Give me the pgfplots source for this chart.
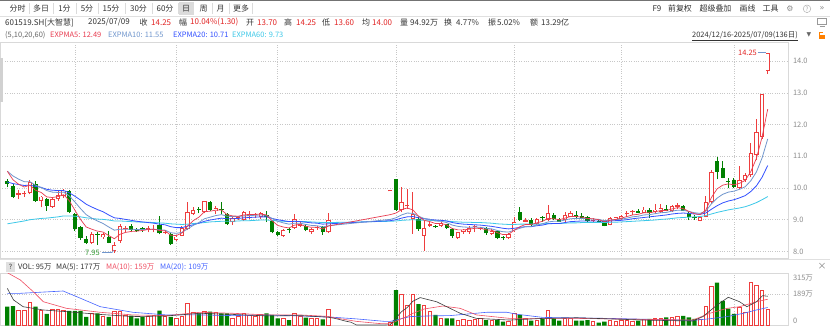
\documentclass[border=0pt]{standalone}
\usepackage{pgfplots}
\pgfplotsset{compat=1.18}
\usepackage{pgfplotstable}
\usepackage{fontspec}
\setmainfont{Noto Sans CJK SC}
\newfontfamily\sym{DejaVu Sans}
\newcommand\fs[1]{\fontsize{#1}{#1}\selectfont}
\definecolor{upred}{RGB}{238,62,62}
\definecolor{txtred}{RGB}{226,36,36}
\definecolor{dngreen}{RGB}{0,128,0}
\definecolor{ema5}{RGB}{232,60,80}
\definecolor{ema10}{RGB}{112,150,205}
\definecolor{ema20}{RGB}{50,80,255}
\definecolor{ema60}{RGB}{60,200,232}
\definecolor{vma5}{RGB}{60,60,60}
\definecolor{vma10}{RGB}{240,80,100}
\definecolor{vma20}{RGB}{70,100,255}
\definecolor{labc}{RGB}{140,140,140}
\definecolor{txt}{RGB}{51,51,51}

\pgfplotstableread{
x o h l c v
2 9.78 9.94 9.65 9.83 94
3 9.80 9.92 9.72 9.84 90
4 9.83 10.25 9.80 10.20 138
6 9.58 9.75 9.39 9.73 94
8 9.41 9.68 9.38 9.65 98
9 9.65 9.94 9.60 9.79 98
10 9.76 9.98 9.70 9.92 94
15 8.26 8.60 8.23 8.55 74
17 8.44 8.58 8.40 8.54 53
19 8.02 8.30 7.95 8.21 88
20 8.34 8.86 8.28 8.81 84
21 8.70 8.81 8.60 8.73 60
25 8.69 8.80 8.60 8.75 53
26 8.68 8.83 8.60 8.71 60
28 8.58 8.66 8.54 8.62 53
30 8.36 8.52 8.32 8.47 43
31 8.50 8.81 8.48 8.74 53
32 8.71 9.55 8.67 9.23 134
33 9.18 9.39 9.16 9.30 80
35 9.23 9.60 9.20 9.58 88
37 9.26 9.44 9.18 9.37 78
40 8.92 9.13 8.84 9.04 43
41 9.02 9.12 8.98 9.09 53
42 9.00 9.28 8.97 9.23 74
43 9.13 9.28 9.02 9.18 60
44 9.15 9.20 9.05 9.18 58
45 9.10 9.23 9.02 9.21 68
49 8.50 8.72 8.46 8.68 43
51 8.74 9.18 8.72 9.02 74
52 8.81 8.92 8.78 8.88 53
54 8.60 8.74 8.56 8.70 43
55 8.74 8.80 8.68 8.77 43
57 8.60 9.21 8.58 8.99 98
68 9.89 9.89 9.89 9.89 17
70 9.31 10.04 9.23 9.55 189
71 9.42 9.97 9.34 9.47 124
72 9.02 9.88 8.55 9.18 191
74 8.50 8.97 8.02 8.74 120
75 8.81 8.97 8.78 8.86 84
77 8.81 8.92 8.78 8.89 43
80 8.42 8.62 8.40 8.60 33
81 8.60 8.72 8.56 8.69 35
82 8.61 8.81 8.55 8.74 33
83 8.76 8.84 8.60 8.79 37
84 8.72 8.78 8.66 8.74 43
86 8.55 8.70 8.52 8.65 33
89 8.42 8.58 8.40 8.55 23
90 8.63 9.07 8.60 8.94 74
92 8.94 9.04 8.92 8.99 43
94 8.86 9.06 8.83 9.02 33
96 8.99 9.47 8.97 9.22 94
99 8.99 9.23 8.93 9.16 43
100 9.10 9.26 9.08 9.20 43
104 8.95 9.05 8.92 8.99 23
107 8.84 9.07 8.82 9.05 33
108 9.00 9.10 8.97 9.07 23
109 9.02 9.16 9.00 9.12 29
110 9.18 9.28 9.10 9.20 33
111 9.23 9.30 9.16 9.25 25
113 9.22 9.39 9.20 9.32 35
115 9.25 9.51 9.21 9.32 45
116 9.25 9.49 9.22 9.36 45
118 9.28 9.46 9.25 9.43 48
119 9.41 9.53 9.35 9.46 55
123 8.97 9.11 8.95 9.09 35
124 9.09 9.76 9.07 9.57 115
125 9.57 10.56 9.51 10.51 238
130 9.99 10.69 9.97 10.25 108
131 10.25 10.46 10.20 10.41 80
132 10.41 11.41 10.36 11.09 262
133 11.04 12.19 10.88 11.77 240
134 11.62 12.98 11.56 12.95 212
135 13.70 14.25 13.60 14.25 95
}\uptab

\pgfplotstableread{
x o h l c v
0 10.21 10.28 10.02 10.13 114
1 10.07 10.12 9.68 9.71 118
5 10.13 10.23 9.57 9.60 114
7 9.65 9.68 9.28 9.44 70
11 9.92 9.95 9.20 9.23 88
12 9.18 9.20 8.65 8.70 88
13 8.76 8.81 8.36 8.42 88
14 8.39 8.49 8.23 8.28 53
16 8.55 8.60 8.20 8.53 74
18 8.47 8.65 8.25 8.28 53
22 8.81 8.86 8.60 8.68 60
23 8.70 8.75 8.62 8.65 43
24 8.73 8.78 8.62 8.70 53
27 8.84 9.13 8.54 8.57 90
29 8.55 8.58 8.20 8.23 53
34 9.34 9.41 9.20 9.31 74
36 9.55 9.58 9.28 9.31 84
38 9.35 9.55 9.18 9.32 74
39 9.18 9.20 8.83 8.86 74
46 9.14 9.28 8.92 9.08 74
47 8.95 9.00 8.57 8.60 64
48 8.60 8.65 8.50 8.53 43
50 8.72 8.74 8.57 8.68 33
53 8.81 8.86 8.63 8.68 47
56 8.76 8.80 8.52 8.60 37
69 10.28 10.28 9.28 9.31 215
73 9.02 9.09 8.65 8.70 130
76 8.80 8.84 8.74 8.76 64
78 8.86 8.88 8.70 8.74 43
79 8.70 8.74 8.42 8.49 43
85 8.74 8.78 8.53 8.57 33
87 8.65 8.68 8.38 8.42 33
88 8.45 8.48 8.36 8.43 23
91 9.25 9.39 8.97 8.99 64
93 9.00 9.05 8.80 8.84 29
95 9.09 9.11 8.93 9.05 39
97 9.16 9.22 8.99 9.01 43
98 9.01 9.04 8.92 8.94 29
101 9.16 9.28 9.06 9.09 29
102 9.12 9.20 9.02 9.05 29
103 9.07 9.12 8.93 8.97 33
105 8.97 9.00 8.90 8.94 17
106 8.95 8.98 8.79 8.81 23
112 9.27 9.33 9.20 9.22 30
114 9.30 9.36 9.04 9.22 40
117 9.33 9.46 9.26 9.29 50
120 9.43 9.46 9.26 9.28 58
121 9.22 9.28 8.99 9.07 50
122 9.06 9.14 9.00 9.04 40
126 10.86 10.98 10.27 10.51 260
127 10.64 10.86 10.30 10.32 149
128 10.23 10.30 9.99 10.20 102
129 10.25 10.30 9.99 10.04 70
}\dntab

\pgfplotstableread{
x e5 e10 e20 e60
0 10.53 10.53 10.19 8.87
1 10.26 10.38 10.14 8.90
2 10.12 10.28 10.11 8.93
3 10.03 10.20 10.08 8.96
4 10.09 10.20 10.09 9.00
5 9.93 10.09 10.05 9.02
6 9.86 10.02 10.02 9.04
7 9.72 9.92 9.96 9.05
8 9.70 9.87 9.93 9.07
9 9.73 9.86 9.92 9.09
10 9.79 9.87 9.92 9.12
11 9.60 9.75 9.85 9.12
12 9.30 9.56 9.74 9.11
13 9.01 9.35 9.62 9.09
14 8.77 9.16 9.49 9.06
15 8.70 9.05 9.40 9.04
16 8.64 8.96 9.32 9.02
17 8.61 8.88 9.25 9.01
18 8.50 8.77 9.15 8.99
19 8.40 8.67 9.06 8.96
20 8.54 8.70 9.04 8.96
21 8.60 8.70 9.01 8.95
22 8.63 8.70 8.98 8.94
23 8.64 8.69 8.95 8.93
24 8.66 8.69 8.93 8.92
25 8.69 8.70 8.91 8.92
26 8.70 8.70 8.89 8.91
27 8.66 8.68 8.86 8.90
28 8.65 8.67 8.84 8.89
29 8.51 8.59 8.78 8.87
30 8.50 8.57 8.75 8.86
31 8.58 8.60 8.75 8.85
32 8.80 8.71 8.80 8.86
33 8.97 8.82 8.84 8.88
34 9.08 8.91 8.89 8.89
35 9.25 9.03 8.95 8.91
36 9.27 9.08 8.99 8.93
37 9.30 9.13 9.02 8.94
38 9.31 9.16 9.05 8.95
39 9.16 9.11 9.03 8.95
40 9.12 9.10 9.03 8.95
41 9.11 9.10 9.04 8.96
42 9.15 9.12 9.06 8.97
43 9.16 9.13 9.07 8.97
44 9.17 9.14 9.08 8.98
45 9.18 9.15 9.09 8.99
46 9.15 9.14 9.09 8.99
47 8.97 9.04 9.04 8.98
48 8.82 8.95 9.00 8.96
49 8.77 8.90 8.97 8.95
50 8.74 8.86 8.94 8.94
51 8.83 8.89 8.95 8.95
52 8.85 8.89 8.94 8.94
53 8.79 8.85 8.92 8.94
54 8.76 8.82 8.90 8.93
55 8.76 8.81 8.89 8.92
56 8.71 8.77 8.86 8.91
57 8.80 8.81 8.87 8.91
68 9.16 9.01 8.97 8.95
69 9.21 9.06 9.00 8.96
70 9.32 9.15 9.05 8.98
71 9.37 9.21 9.09 8.99
72 9.31 9.20 9.10 9.00
73 9.11 9.11 9.06 8.99
74 8.98 9.04 9.03 8.98
75 8.94 9.01 9.01 8.98
76 8.88 8.96 8.99 8.97
77 8.88 8.95 8.98 8.97
78 8.84 8.91 8.96 8.96
79 8.72 8.83 8.91 8.94
80 8.68 8.79 8.88 8.93
81 8.68 8.77 8.86 8.92
82 8.70 8.76 8.85 8.92
83 8.73 8.77 8.84 8.91
84 8.73 8.76 8.83 8.91
85 8.68 8.73 8.81 8.90
86 8.67 8.71 8.79 8.89
87 8.59 8.66 8.76 8.87
88 8.53 8.62 8.73 8.86
89 8.54 8.61 8.71 8.85
90 8.67 8.67 8.73 8.85
91 8.78 8.73 8.76 8.86
92 8.85 8.78 8.78 8.86
93 8.85 8.79 8.78 8.86
94 8.90 8.83 8.81 8.86
95 8.95 8.87 8.83 8.87
96 9.04 8.93 8.87 8.88
97 9.03 8.95 8.88 8.88
98 9.00 8.95 8.88 8.88
99 9.05 8.99 8.91 8.89
100 9.10 9.03 8.94 8.90
101 9.10 9.04 8.95 8.90
102 9.08 9.04 8.96 8.91
103 9.04 9.03 8.96 8.91
104 9.03 9.02 8.96 8.91
105 9.00 9.01 8.96 8.91
106 8.94 8.97 8.95 8.91
107 8.98 8.99 8.96 8.92
108 9.01 9.00 8.97 8.92
109 9.05 9.02 8.98 8.93
110 9.10 9.05 9.00 8.94
111 9.15 9.09 9.03 8.95
112 9.17 9.11 9.05 8.96
113 9.22 9.15 9.07 8.97
114 9.22 9.16 9.09 8.98
115 9.25 9.19 9.11 8.99
116 9.29 9.22 9.13 9.01
117 9.29 9.23 9.15 9.02
118 9.34 9.27 9.18 9.04
119 9.38 9.30 9.20 9.06
120 9.35 9.30 9.21 9.07
121 9.26 9.26 9.20 9.08
122 9.19 9.22 9.18 9.09
123 9.16 9.20 9.17 9.10
124 9.30 9.27 9.21 9.13
125 9.70 9.50 9.33 9.18
126 9.97 9.68 9.44 9.23
127 10.09 9.80 9.53 9.27
128 10.13 9.87 9.59 9.31
129 10.10 9.90 9.63 9.34
130 10.15 9.96 9.69 9.37
131 10.24 10.04 9.76 9.41
132 10.52 10.23 9.89 9.47
133 10.94 10.51 10.07 9.54
134 11.61 10.95 10.34 9.63
135 12.49 11.55 10.71 9.73
}\ematab

\begin{document}
\begin{tikzpicture}
\useasboundingbox (0,0) rectangle (830bp,-328bp);
\fill[white] (0,0) rectangle (830bp,-328bp);

% ---------- price panel ----------
\begin{axis}[
  at={(0bp,-42bp)}, anchor=north west, scale only axis,
  width=788bp, height=216bp,
  xmin=-1.3, xmax=138.6, ymin=7.792, ymax=14.606,
  axis line style={draw=black!15, line width=0.5bp},
  xtick={12,30,48,69,90,109,129}, xticklabels={}, xmajorgrids,
  ytick={8,9,...,14}, ymajorgrids,
  grid style={dotted, black!22, line width=0.6bp},
  major tick length=0pt,
  yticklabel pos=right,
  yticklabel style={font=\fs{7.5}, text=labc, anchor=west, xshift=1.5bp,
    /pgf/number format/.cd, fixed, fixed zerofill, precision=1, assume math mode=true},
]
% wicks
\addplot[draw=none, mark=none, forget plot, error bars/.cd, y dir=plus, y explicit, error mark=none,
  error bar style={draw=upred, solid, line width=0.9bp}]
  table[x=x, y=l, y error expr=\thisrow{h}-\thisrow{l}] {\uptab};
\addplot[draw=none, mark=none, forget plot, error bars/.cd, y dir=plus, y explicit, error mark=none,
  error bar style={draw=dngreen, solid, line width=0.9bp}]
  table[x=x, y=l, y error expr=\thisrow{h}-\thisrow{l}] {\dntab};
% bodies
\addplot[draw=none, mark=none, forget plot, error bars/.cd, y dir=plus, y explicit, error mark=none,
  error bar style={draw=upred, solid, line width=4.3bp}]
  table[x=x, y=o, y error expr={max(\thisrow{c}-\thisrow{o},0.032)}] {\uptab};
\addplot[draw=none, mark=none, forget plot, error bars/.cd, y dir=plus, y explicit, error mark=none,
  error bar style={draw=white, solid, line width=2.5bp}]
  table[x=x, y expr=\thisrow{o}+0.029, y error expr={max(\thisrow{c}-\thisrow{o}-0.058,0)}] {\uptab};
\addplot[draw=none, mark=none, forget plot, error bars/.cd, y dir=plus, y explicit, error mark=none,
  error bar style={draw=dngreen, solid, line width=4.3bp}]
  table[x=x, y=c, y error expr={max(\thisrow{o}-\thisrow{c},0.032)}] {\dntab};
% EXPMA lines
\addplot[ema60, line width=0.8bp, mark=none] table[x=x, y=e60] {\ematab};
\addplot[ema20, line width=0.8bp, mark=none] table[x=x, y=e20] {\ematab};
\addplot[ema10, line width=0.8bp, mark=none] table[x=x, y=e10] {\ematab};
\addplot[ema5, line width=0.7bp, mark=none] table[x=x, y=e5] {\ematab};
\end{axis}

% ---------- volume panel ----------
\begin{axis}[
  at={(0bp,-273.5bp)}, anchor=north west, scale only axis,
  width=788bp, height=52bp,
  xmin=-1.3, xmax=138.6, ymin=0, ymax=315,
  axis line style={draw=black!15, line width=0.5bp},
  xtick={12,30,48,69,90,109,129}, xticklabels={}, xmajorgrids,
  ytick={189}, yticklabels={189万}, ymajorgrids,
  extra y ticks={29,288}, extra y tick labels={0,315万},
  extra y tick style={grid=none},
  grid style={dotted, black!22, line width=0.6bp},
  major tick length=0pt,
  yticklabel pos=right,
  yticklabel style={font=\fs{7.5}, text=labc, anchor=west, xshift=1.5bp},
]
\addplot[ybar, bar width=4.3bp, bar shift=0pt, fill=dngreen, draw=none] table[x=x, y=v] {\dntab};
\addplot[ybar, bar width=3.5bp, bar shift=0pt, fill=white, draw=upred, line width=0.8bp] table[x=x, y=v] {\uptab};
\addplot[vma20, line width=0.6bp, mark=none] coordinates {
(0,195) (2.3,195) (9.9,209) (12.3,175) (16.5,114) (22.3,80) (28.3,64) (34.2,64) (40.1,60) (46.1,64) (52,58) (57,52)
(62,40) (67,25) (68,25) (71.5,54) (75,58) (78.6,60) (85.1,80) (88.7,80) (90.5,68) (95.1,49) (107,43) (121.7,31)
(124.5,40) (127.8,54) (130.7,74) (133,94) (135,109)};
\addplot[vma10, line width=0.6bp, mark=none] coordinates {
(0,320) (2.3,276) (4.6,205) (6.4,144) (10.5,104) (16.5,80) (22.3,64) (28.3,60) (34.2,80) (40.1,74) (46.1,64) (52,64) (57,55)
(58,47) (62,25) (66,12) (68,10) (69,25) (70,42) (71,55) (72,74) (74,100) (77.3,118) (80.4,104) (83.3,64) (89.2,43)
(101.1,43) (121.7,33) (124.7,74) (127.8,104) (130,114) (133,144) (135,159)};
\addplot[vma5, line width=0.6bp, mark=none] coordinates {
(0,225) (1.1,155) (2.8,114) (6.4,94) (10.5,84) (16.5,67) (22.3,54) (28.3,58) (34.2,74) (40.1,67) (46.1,58) (52,60) (57,50)
(58,44) (59,36) (60,27) (61,20) (62,3) (67,3) (68,4) (69,46) (70,84) (71,109) (72,147) (73.3,169) (76.2,144) (80.4,74)
(83.3,43) (89.2,33) (95.1,43) (101.1,47) (112.9,33) (121.7,27) (123.5,54) (126,124) (128,171) (130,144) (131.3,114)
(133,144) (134.1,181) (135,177)};
\end{axis}

% ---------- texts and chrome ----------
\begin{scope}[x=1bp, y=-1bp, every node/.style={inner sep=0pt, text=txt, font=\fs{8}}]
\fill[black!55] (0,0) rectangle (830,1.5);
\draw[black!12, line width=0.5bp] (0,16.5) -- (830,16.5);
\fill[black!14] (178.5,2.5) rectangle (193.5,15);
\foreach \xx in {29.5,53,76,98.5,125.5,152,178.5,193.5,212,229.5,252.5}
  \draw[black!14, line width=0.5bp] (\xx,3.5) -- (\xx,14);
\node at (17.5,8.8) {分时};
\node at (41,8.8) {多日};
\node at (64.5,8.8) {1分};
\node at (87,8.8) {5分};
\node at (111,8.8) {15分};
\node at (138.5,8.8) {30分};
\node at (165,8.8) {60分};
\node at (186,8.8) {日};
\node at (203.5,8.8) {周};
\node at (220.5,8.8) {月};
\node at (241,8.8) {更多};
\node at (657,8.8) {F9};
\node at (680,8.8) {前复权};
\node at (715.5,8.8) {超级叠加};
\node at (747.5,8.8) {画线};
\node at (770.5,8.8) {工具};
\node[text=black!45] at (790,8.8) {\sym\fs{8}⚙};
\draw[black!30, line width=0.5bp] (807,8.8) circle (3.8);
\node[text=black!35, font=\fs{6}] at (807,8.9) {?};
\node[text=black!45] at (822,8.3) {\sym\fs{8}»};
% info row
\node[anchor=west] at (5,22.5) {601519.SH[大智慧]};
\node[anchor=west] at (88,22.5) {2025/07/09};
\node[anchor=west] at (139.5,22.5) {收};
\node[anchor=west, text=txtred] at (151,22.5) {14.25};
\node[anchor=west] at (179,22.5) {幅};
\node[anchor=west, text=txtred] at (190,22.5) {10.04\%(1.30)};
\node[anchor=west] at (246,22.5) {开};
\node[anchor=west, text=txtred] at (257,22.5) {13.70};
\node[anchor=west] at (284,22.5) {高};
\node[anchor=west, text=txtred] at (296,22.5) {14.25};
\node[anchor=west] at (322,22.5) {低};
\node[anchor=west, text=txtred] at (334,22.5) {13.60};
\node[anchor=west] at (362,22.5) {均};
\node[anchor=west, text=txtred] at (372,22.5) {14.00};
\node[anchor=west] at (400,22.5) {量};
\node[anchor=west] at (410,22.5) {94.92万};
\node[anchor=west] at (444,22.5) {换};
\node[anchor=west] at (456,22.5) {4.77\%};
\node[anchor=west] at (488,22.5) {振};
\node[anchor=west] at (497,22.5) {5.02\%};
\node[anchor=west] at (530,22.5) {额};
\node[anchor=west] at (541,22.5) {13.29亿};
\draw[black!40, line width=0.6bp] (817.5,18.5) rectangle (826.5,24.5);
\draw[black!40, line width=0.6bp] (819.5,26.5) -- (824.5,26.5);
% legend row
\node[anchor=west, font=\fs{7.5}, text=black!60] at (5,35) {(5,10,20,60)};
\node[anchor=west, font=\fs{7.5}, text=ema5] at (50,35) {EXPMA5: 12.49};
\node[anchor=west, font=\fs{7.5}, text=ema10] at (108,35) {EXPMA10: 11.55};
\node[anchor=west, font=\fs{7.5}, text=ema20] at (173,35) {EXPMA20: 10.71};
\node[anchor=west, font=\fs{7.5}, text=ema60] at (232,35) {EXPMA60: 9.73};
\node[anchor=west, font=\fs{7.5}] (rng) at (692,35) {2024/12/16-2025/07/09(136日)};
\draw[txt, line width=0.4bp] ([yshift=-1bp]rng.south west) -- ([yshift=-1bp]rng.south east);
\node[text=black!60] at (809,35) {\sym\fs{6}▼};
\fill[orange] (818.5,34.5) rectangle (824.5,39);
\draw[orange, line width=0.7bp] (819.8,34.5) -- (819.8,32) -- (823.2,32);
% left scrollbar stub
\fill[black!18] (0,58) rectangle (3.5,102);
% annotations
\node[text=txtred, font=\fs{7.5}] at (747.5,52.5) {14.25};
\draw[ema10, line width=0.6bp] (758,52) -- (766,52);
\node[text=dngreen!80, font=\fs{7.5}] at (92.5,252.5) {7.95};
\draw[ema10, line width=0.6bp] (102,252.5) -- (112,252.5) -- (114,250);
% volume header
\fill[black!12] (6,262) rectangle (15,271.5);
\node[font=\fs{7}] at (10.5,266.7) {?};
\node[anchor=west, font=\fs{7.5}] at (18,266.7) {VOL: 95万};
\node[anchor=west, font=\fs{7.5}] at (56,266.7) {MA(5): 177万};
\node[anchor=west, font=\fs{7.5}, text=vma10] at (106,266.7) {MA(10): 159万};
\node[anchor=west, font=\fs{7.5}, text=vma20] at (160,266.7) {MA(20): 109万};
\draw[black!12, line width=0.5bp] (0,259.5) -- (830,259.5);
\node[text=black!50, font=\fs{9}] at (822,266.5) {×};
\end{scope}
\end{tikzpicture}
\end{document}
